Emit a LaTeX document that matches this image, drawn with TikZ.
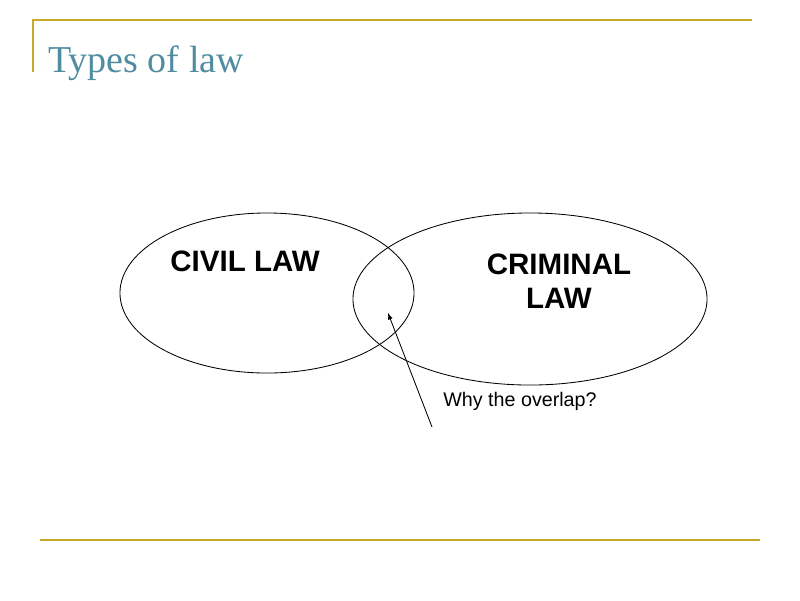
\documentclass[tikz,border=0pt]{standalone}
\usepackage{fontspec}
\setmainfont{Liberation Sans}
\newfontfamily\titlefont{Liberation Serif}
\definecolor{gold}{RGB}{200,170,40}
\definecolor{teal}{RGB}{80,140,160}
\tikzset{rule/.style={gold,line width=1pt},
 ell/.style={draw,ellipse,line width=0.6pt},
 big/.style={font=\bfseries\fontsize{21}{24}\selectfont,align=center}}
\usetikzlibrary{shapes.geometric}
\begin{document}
\begin{tikzpicture}[x=0.025cm,y=-0.025cm]
\useasboundingbox (0,0) rectangle (800,600);
\coordinate (t1) at (33,20); \coordinate (t2) at (752,20); \coordinate (t3) at (33,72);
\coordinate (b1) at (40,540); \coordinate (b2) at (760,540);
\draw[rule] (t3) -- (t1) -- (t2);
\draw[rule] (b1) -- (b2);
\node[anchor=base west,text=teal,font=\titlefont\fontsize{27}{30}\selectfont,inner sep=0] (title) at (48,72) {Types of law};
\node[draw,ellipse,line width=0.6pt,minimum width=294\pgflinewidth*0+7.35cm,minimum height=4cm] (civ) at (267,293) {};
\node[draw,ellipse,line width=0.6pt,minimum width=8.85cm,minimum height=4.3cm] (crim) at (530,299) {};
\node[big] (civt) at (245,261) {CIVIL LAW};
\node[big] (crimt) at (559,281) {CRIMINAL\\LAW};
\node[font=\fontsize{14}{16}\selectfont] (why) at (520,401) {Why the overlap?};
\coordinate (a0) at (432,427); \coordinate (a1) at (388,313);
\draw[-latex,line width=0.6pt] (a0) -- (a1);
\end{tikzpicture}
\end{document}
